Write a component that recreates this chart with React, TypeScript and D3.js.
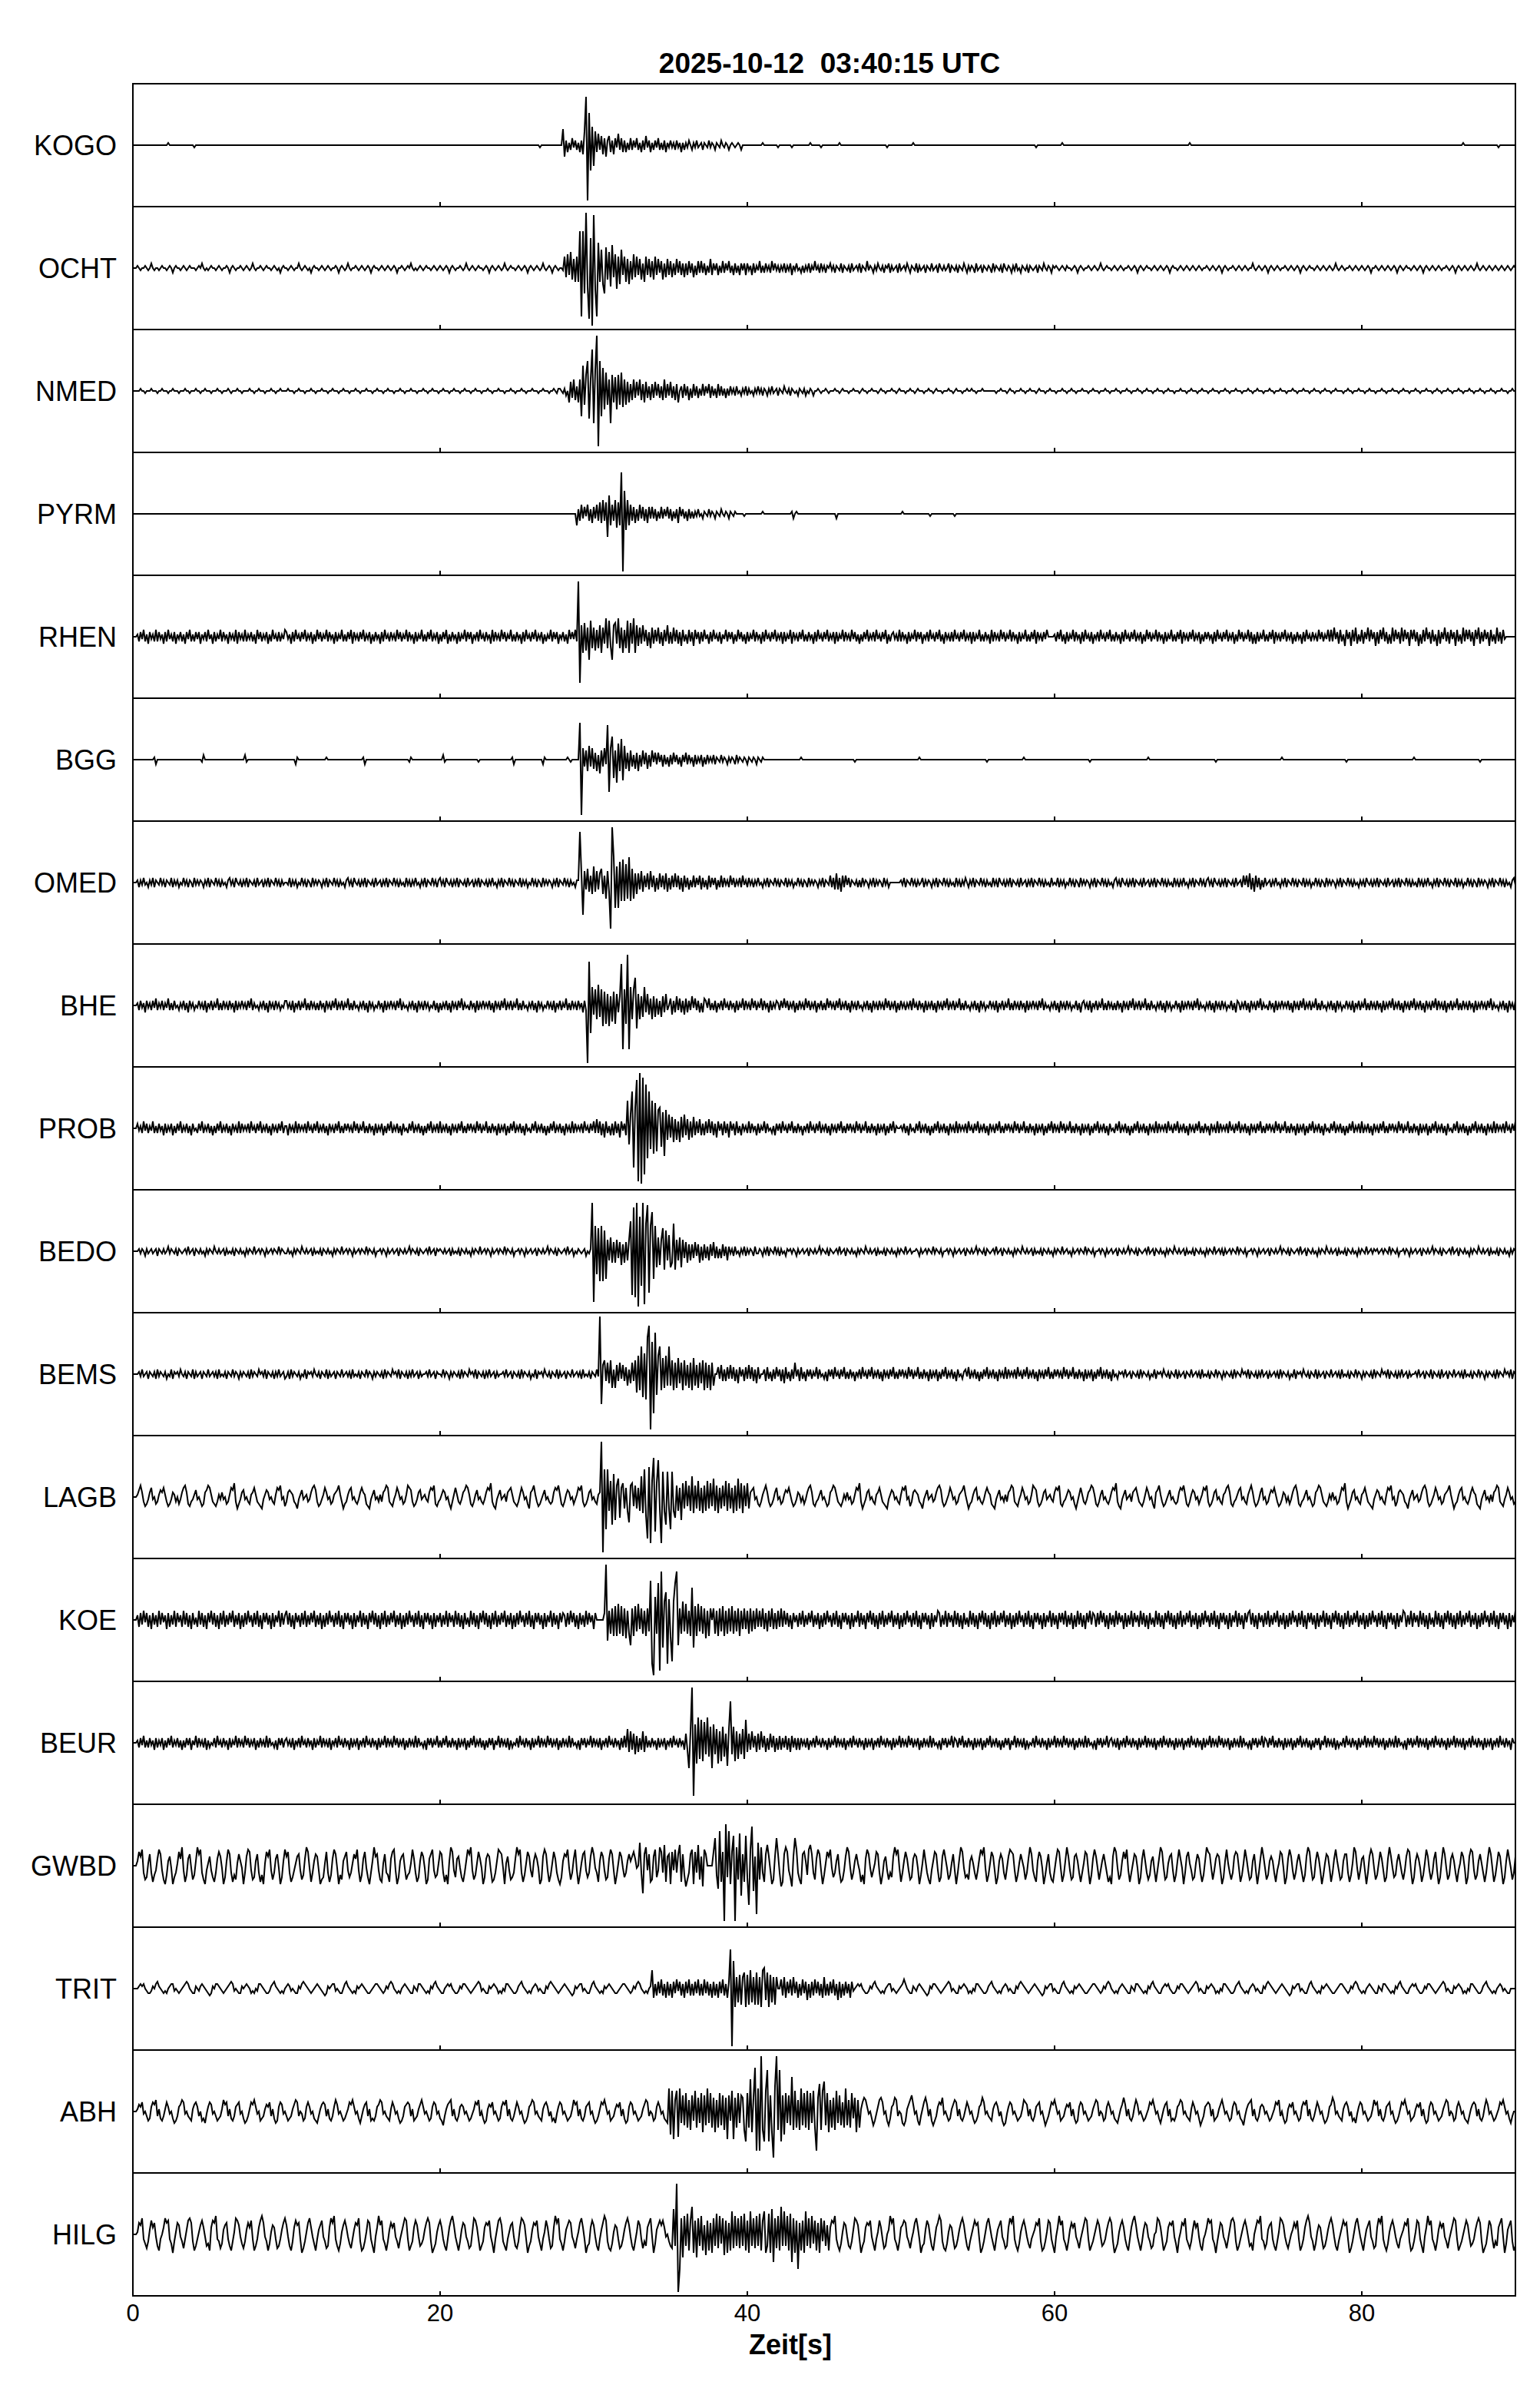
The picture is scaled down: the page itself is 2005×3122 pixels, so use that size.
import React from "react";
import * as d3 from "d3";

// ---------- data ----------
// Each trace: list of [startTime(s), samples]; start -1 = continue right after the previous segment.
// Samples every 0.1 s. Encoding: A..Z = +1..+26, a..z = -1..-26, '0' = 0. Spaces ignored.
const TITLE = "2025-10-12  03:40:15 UTC";
const X_LABEL = "Zeit[s]";
const X_TICKS = [0, 20, 40, 60, 80];
const T_MAX = 90;
const DT = 0.1;
const STATIONS = ["KOGO","OCHT","NMED","PYRM","RHEN","BGG","OMED","BHE","PROB","BEDO","BEMS","LAGB","KOE","BEUR","GWBD","TRIT","ABH","HILG"];

const KOGO: [number, string][] = [
  [2.3,"A"],[4.0,"a"],[26.5,"a"],
  [28.0,"GeBcAbCaBb AcBdFUxNkH"],
  [30.0,"iFcEbDdCeB DcBdCaEbCc BcAbCbBaCb AcBbDaBcAb BaCbAbBcAa BaAbBaAcAb AaB0bAaBa0 AbA0aBaA0b A0aB0aA0b0 A0a0A0b000"],
  [41.0,"A"],[42.0,"a"],[42.9,"a"],[44.1,"A"],[44.8,"a"],[46.0,"A"],[49.1,"a"],[50.8,"A"],[58.8,"a"],[60.5,"A"],[68.8,"A"],[86.6,"A"],[88.9,"a"]
];

const OCHT: [number, string][] = [
  [0.2,"0A0a00A0a0 B0a00a0A00 a0A0b0A00a 0A0a0A000a 0A0B0a0a0A 00a0A0a00A 0b0A0a00A0 a0A0a0B0a0 0A0a0A00a0 A0a0b0A0a0 A"],
  [10.0,"0a0A0a00B0 a0A0a0b0A0 0a0A0a0A0a 00A0b0A0a0 B0a00A0a0A 0a0A0b0A00 a0A0a0A0a0 A0b00A0a0A 0B0a0a0A0a 0A00a0A0a0 0"],
  [20.0,"A0a0A0b0A0 a00A0a0B0a 0A0a0A00a0 A0b0A0a0A0 a0B0a0A00a 0A0a0A0b0A 0a0A0a0B0a 0A0b0A0a00 a0A0a0B0a0 A0b0"],
  [28.1,"EdFcGeDfE"],
  [29.0,"fPuPkXhvMy WiuKfHgkIe"],
  [31.0,"GhJdFiEgHc EfDgCeFdEc DeBfEcDdCe EcDbCeBdDc"],
  [35.0,"CdBcDbCcBd BcCbBdAcCb CbBcAbDcBa BcAbCbBaCb AcBbAcBaBc"],
  [40.0,"BaAcBbAaCb AbBaAbCaBa AbAaBbAaBc AaBa0bAbAa BbAaCaAbBa"],
  [45.0,"AbA0BaAbA0 aBbA0aAbBa 0AaBbA0aCa A0bAaB0aAb A0BbAa0AbB a0AaB0bA0a BbAa0AbA0a Ba0AbB0aAa 0BbA0aAbA0 aB0bAaA0bB a0AbA0aA0b BaA0aAbB0a A0bAaBa0bA 0aAbA0a0Ab A0aB0aA0bA 0"],
  [60.0,"0A0a0A0aA0 0a0A0b0A0a 00A0a0A0a0 B0a0A00a0A 0a0A0a00A0 a0A0b0A0a0 A00a0A0a0A 0a0A0b0A00 a0A0a0A0a0 A0a0A0a00A 0"],
  [70.0,"0a0A0a0A0b 0A0a00A0a0 A0a0A0a00B 0a0A0a0A0b 0A0a0A0a00 A0a0A0a0A0 b0A0a0A00a 0A0a0A0a0A 0a0B0a0A0a 00A0a0A0a0 0"],
  [80.0,"A0a0A0b00A 0a0A0a0A0a 0A0b0A0a0A 00a0A0a0A0 b0A0a0A0a0 A0a00A0a0A 0b0A0a0A0a 0A0a0B0a0A 0a0A0a0A0a 0A0a0A0a0A 0"]
];

const NMED: [number, string][] = [
  [0.3,"00A00a000A 000a00A000 a00A000a00 0A00a000A0 0a00A000a0 00A00a000A 0a000A00a0 000A00a00A 000a000A00 a00A000a00 0"],
  [10.0,"0A000a00A0 00a000A00a 000A000a00 A000a00A00 0a000A00a0 00A000a00A 000a00A000 a000A00a00 0A000a000A 00a00A000a 0"],
  [20.0,"00A000a00A 000a00A000 a00A000a00 0A00a000A0 00a000A00a 000A00a000 A000a00A00 0a00A0aA"],
  [27.8,"A0aAb0"],
  [28.4,"eDcEdBeEkK fGMlERnIXx MkJhHfEnGe FhGfHgEf"],
  [32.2,"DeCdEcDbEd CeDcBdCcDb CcBdEcCbDc BdCe"],
  [35.7,"BcCbBdAcCb BcAbCbBaCc BbAcCbBbAc"],
  [38.7,"AbBaAbBa0b AaBbAa0bAa BaAbA0bAaB a0AbA0aB0a AbA0a0bA0a Ab0aA0b"],
  [44.5,"0A0a00A0a0 00A00a0A00 0a00A000a0 A00a00A000 a0A00a000A 00a0A000a0 0A00a0A000 a00A00a0A0 00a000A00a 0A000a00A0 0A00a000A0 0"],
  [56.0,"00a00A000a 0A00a000A0 0a00A000a0 A000a00A00 0a000A00a0 0A00a000A0 00a00A000a 000A00a000 A00a000A00 a000A00a00 0"],
  [66.0,"A000a00A00 0a00A000a0 00A000a00A 000a00A000 a00A000a00 0A00a000A0 00a000A00a 00A000a000 A00a000A00 0a000A00a0 0"],
  [76.0,"00A000a00A 000a00A000 a00A0000a0 0A00a000A0 00a00A000a 000A00a000 A000a00A00 0a000A00a0 00A000a00A 00a000A00a 000A00a000 A00a000A00 a000A00a00 0A000a00A0 0"]
];

const PYRM: [number, string][] = [
  [28.9,"eBcDbCaDcB dCbDc"],
  [30.4,"EdFcEjHeD"],
  [31.3,"cFfEeRyJgF e"],
  [32.4,"DcCdBcDbCc BdCb"],
  [33.8,"CbBcAbCbBa CbBcAbBdCa BbAcBbA"],
  [36.5,"bAaBa0bA0a BaA0bA0aB0 aA0bA0aA0"],
  [39.8,"a"],[41.0,"A"],[42.9,"Ab0A"],[45.8,"b"],[50.1,"A"],[51.9,"a"],[53.5,"a"]
];

const RHEN: [number, string][] = [
  [0.3,"AbBaCbAcBa AbCbBaAcBb CaAbBcAaBb AcBaCbAbBa BcAaBbCaAc BbAaCbBaAc BaAbCcBaAb CbAaBbAcCa BbAaBcAbCa AbBbAaCbBa A"],
  [10.0,"BaAcBbCaAb BaCbAaBcAb CaBbAaCbBa AcBbAaCbAb BaCcBaAbBa CbAaBcAbBa AcBbCaAbBa AbCaBbAaCb BaAcBbAaCb AbBaCbAaBc A"],
  [20.0,"AbBaCcAbBa AcBbAaCbBa BcAaBbCaAb BaAcCbBaAb CaBbAaCbAb BaAcBbCaAb BaCbAaBcAb AaCbBaBcAa BbAcCaBaCb AbBa"],
  [29.0,"XtEgFfDjGe"],
  [30.0,"DfCeEgDcHe GdjEFcHeDg CeGgFcHgEd"],
  [33.0,"DcEbCdBeDc CbDcBdCbEc BcDbCcBdCb AcCbBdCaBc"],
  [37.0,"BbCaAcBbCa AbBcAaCbBa BcAb"],
  [39.4,"CaBbAcBbAa CbBaAcBbCa AbBaCbAaBc BbAaCcBaAb BaCbAbBaAc BbCaAbBaCb AaBcBbAaCb BaAbCaBbAc AbBaCbAaBb CaAbBaCcAb A"],
  [49.5,"BaAbCbBaAc BbAaCbBaBc AaBbCaAbBa CbAcBaAbBb CaAbBaCbAa BcBbAaCbAb BaAcCbBaAb CaBbAaCbBa AcBbAaCbAb BaCcBaAbBa C"],
  [60.0,"AbBaCbAcBb AaCbBaAcBb CaAbBcAaBb CaAbBaCbAb BaAcBbCaAb BaCbAaBcAb CaBbAaCbBa AcBbAaCbAb BaCcBaAbBa CbAaBcAbBa A"],
  [70.0,"BaAcBbCaAb BaCbAaBcAb CaBbAaCbBc AcBbAaCbAb BaCcBaAbBa CbAaBcAbBa AcBbCaAbBa AbCaBbAaCb BaAcCbAaCb AbBaCbAaBc A"],
  [78.0,"CbDaBcCbAd CaBdCbDcAb CcBaDbCaBd BcCaDbBcAc DbCaBcDbCa BdCaCbBdAc CbDaBcCbAd CcBaDbBcCa BdCbAcDbCa CbBdCaDcBb CaBdCbAcDb BcCa"]
];

const BGG: [number, string][] = [
  [1.4,"Ab"],[4.5,"aB"],[7.3,"Ba"],[10.6,"bA"],[12.6,"A"],[15.0,"Ab"],[18.0,"aA"],[20.2,"Ba"],[22.5,"a"],[24.7,"Ab"],[26.7,"bA"],[28.3,"A0a"],
  [29.1,"Px"],
  [29.3,"EcDeFcEdCe BfDcEbDe"],
  [30.9,"On"],
  [31.1,"EJhDjGeIiF"],
  [32.1,"dCeDcBdCeB cDbCdBcDaC"],
  [34.1,"bCaBcBbAcB bCaBbAcBaC bBaAcBbAaB cAbBa"],
  [37.6,"AaBbA0aBaA 0bAaA0bBaA 0aA0bA0aA0 bA0aA0"],
  [43.5,"A"],[47.0,"a"],[51.2,"A"],[55.6,"a"],[58.0,"A"],[62.3,"a"],[66.1,"A"],[70.5,"a"],[74.8,"A"],[79.0,"a"],[83.4,"A"],[87.7,"a"]
];

const OMED: [number, string][] = [
  [0.3,"AbAaBa0bAa BbA0aBaAbA 0aBbAaAb0a BaAbA0bBaA aA0bAaBbA0 aBaAbAa0bA BaAbB0aAbA aBbA0aAbBa 0AbAaBbA0a BaAbAa0bBa A"],
  [10.0,"0aBbAaAb0a BaAbA0bBaA aA0bAaBbA0 aBaAbAa0bA BaAbB0aAbA aBbA0aAbBa 0AbAaBbA0a BaAbAa0bBa AbAaBa0bAa BbA0aBaAbA 0"],
  [20.0,"BaAbB0aAbA aBbA0aAbBa 0AbAaBbA0a AbAaBa0bAa BbA0aBaAbA 0aBbAaAb0a BaAbA0bBaA aA0bAaBbA0 aBaAbAa0bA BaA"],
  [29.0,"AVDn"],
  [29.4,"EcFdCeGdEc DFeCgEdFcE"],
  [31.1,"tXKkGkIhJh HgKhFgDe"],
  [32.9,"DcEdCbDcEb CdBcDbCcDd BcCbDbCcBd"],
  [35.9,"CbBcAbCbBa CcBbAcCbBa BcAbCb"],
  [38.5,"BaAbCaBbAa BbCaAbBa"],
  [40.3,"AbAaBa0bAa BbA0aBaAbA 0aBbAaAb0a BaAbA0bBaA aA0bAaBbA0 aCbBcDcBdC bCaBbA0aAb AbBaA0bAaB bAaA0bBaAb"],
  [50.0,"AaBbA0aBaA bAa0BbAaA0 bAaBbA0aBa AbAa0bBaAb AaB0bAaBbA 0aBaAbAa0b BaAbB0aAbA aBbA0aAbBa 0AbAaBbA0a BaAbAa0bBa A"],
  [60.0,"0aBbAaAb0a BaAbA0bBaA aA0bAaBbA0 aBaAbAa0bA BaAbB0aAbA aBbA0aAbBa 0AbAaBbA0a BaAbAa0bBa AbAaBa0bAa BbA0aBaAbA 0"],
  [70.0,"BaAbB0aAbA aBbA0aAbBa 0AbCaCbDcB dCbBcAbBa0 AbAaBa0bAa BbA0aBaAbA 0aBbAaAb0a BaAbA0bBaA aA0bAaBbA0 aBaAbAa0bA B"],
  [80.0,"aAbB0aAbAa BbA0aAbBa0 AbAaBbA0aB aAbAa0bBaA bAaBa0bAaB bA0aBaAbA0 aBbAaAb0aB aAbA0bBaAa A0bAaBbA0a BaAbAa0bAB a"]
];

const BHE: [number, string][] = [
  [0.3,"AbBaAcBaAb BaCbAaBbAa CbAbBa0bAa BbAcBaAb0a BaAbBcAaBb AaCbAbBaAb BaAcBbAaBa AbBaCbAa0b AaBbAcBaAb BaAb0aBbAc A"],
  [10.0,"BaAbBcAaBb AaCbAbBaAb AbBaAcBaAb BaCbAaBbAa CbAbBa0bAa BbAcBaAb0a BaAcBbAaBa AbBaCbAa0b AaBbAcBaAb BaAb0aBbAc B"],
  [20.0,"AbAaBbAcBa AbBaCbAa0b BaAcBbAaBa AaBbAcBaAb BaCbAaBbAa CbAbBa0bAa BbAcBaAb0a BaAbBcAaBb AaCbAbBaAb BaAcBb"],
  [29.6,"ySlHdGfIeG"],
  [30.6,"iFhEiDgFhE cFeDfEd"],
  [31.7,"DRsGhVsHfG Lj"],
  [32.9,"EfDeHcEdCf DeCdBeDcEb"],
  [35.0,"CdBcDbCcBd CcBbDaCbBc AcCb"],
  [37.3,"BaCbAbBcAa BbCaAbBaAc BbAaCbBaAb CaBbAaCbBa AcBbAaBb"],
  [42.0,"AbBaCaBbAa BcAbBaAbCa BbAaBcAaBb AbCaBaAbBa CbAaBbAcBa AbBa0bAaBb AcBaAbBaAb CaBbAaBcAb BaAbAaBbCa AbBaAcBb"],
  [-1,"AaBbAcBaAb BaCbAaBbAa CbAbBa0bAa BbAcBaAb0a BaAbBcAaBb AaCbAbBaAb BaAcBbAaBa AbBaCbAa0b AaBbAcBaAb BaAb0aBbAc A"],
  [-1,"BaAbBcAaBb AaCbAbBaAb AbBaAcBaAb BaCbAaBbAa CbAbBa0bAa BbAcBaAb0a BaAcBbAaBa AbBaCbAa0b AaBbAcBaAb BaAb0aBbAc B"],
  [-1,"AbAaBbAcBa AbBaCbAa0b BaAcBbAaBa AaBbAcBaAb BaCbAaBbAa CbAbBa0bAa BbAcBaAb0a BaAbBcAaBb AaCbAbBaAb BaAcBbAaBa CbAaBbAcBa AbBaCbAaBb AcBaAbBaCb BaAbBcAaBb AaCbAbBaAb BaAcBbAaBa AbBaCbAa0b AaBbAcBaAb BaAb0aBbAc"]
];

const PROB: [number, string][] = [
  [0.3,"BaAbCaBbAa CbAbBaAcBb AaBcAbBaCb AaBbAcBa0b BaCbAaBbAc AbBaCbAaBb AcBaAbCbBa AaBbCaAbBa CbAaBbAcBa AbBaCbAbBa A"],
  [10.0,"AcBaAbCbBa AaBbCaAbBa CbAaBbAcBa AbBaCbAbBa BaAbCaBbAa CbAbBaAcBb AaBcAbBaCb AaBbAcBa0b BaCbAaBbAc AbBaCbAaBb A"],
  [20.0,"CbAaBbAcBa AbBaCbAbBa BaAbCaBbAa CbAbBaAcBb AaBcAbBaCb AaBbAcBa0b BaCbAaBbAc AbBaCbAaBb AcBaAbCbBa AaBbCaAbBa CbAa"],
  [30.2,"DbCcBdCbAc BcCbBdCaBc"],
  [32.2,"LgFPqIUwXx VtSmPiLkKj HIhGlH"],
  [34.8,"eFdEfDeCfE dFcDeCdEc"],
  [36.7,"CbDcBcCbDb CcBdCaBcCb BdCaBcCbAc"],
  [39.7,"BaAbCbBaAc BbAaCbBa0b AcBaBbCaAb BaCbAbBaAc AaBbCaAbBa CbAaBbAcBa AbBaCbAbBa BaAbCaBbAa CbAbBaAcBb AaBcAbBaCb A"],
  [50.0,"AaBbAcBa0b BaCbAaBbAc AbBaCbAaBb AcBaAbCbBa AaBbCaAbBa CbAaBbAcBa AbBaCbAbBa BaAbCaBbAa CbAbBaAcBb AaBcAbBaCb A"],
  [60.0,"BaAbCaBbAa CbAbBaAcBb AaBcAbBaCb AaBbAcBa0b BaCbAaBbAc AbBaCbAaBb AcBaAbCbBa AaBbCaAbBa CbAaBbAcBa AbBaCbAbBa A"],
  [70.0,"AcBaAbCbBa AaBbCaAbBa CbAaBbAcBa AbBaCbAbBa BaAbCaBbAa CbAbBaAcBb AaBcAbBaCb AaBbAcBa0b BaCbAaBbAc AbBaCbAaBb A"],
  [80.0,"CbAaBbAcBa AbBaCbAbBa BaAbCaBbAa CbAbBaAcBb AaBcAbBaCb AaBbAcBa0b BaCbAaBbAc AbBaCbAaBb AcBaAbCbBa AaBbCaAbBa CbAa"]
];

const BEDO: [number, string][] = [
  [0.3,"0AaA0bAa0A a0AbA0aAa0 BaA0aAbA0a 0AaBa0AbA0 aAa0bAaA0a B0aAa0AbAa 0aAbA0aAa0 bAaA0aBa0A aA0bAa0AaA 0aBaA0aAb0 A"],
  [10.0,"aAa0bAaA0a B0aAa0AbAa 0aAbA0aAa0 bAaA0aBa0A aA0bAa0AaA 0aBaA0aAb0 0AaA0bAa0A a0AbA0aAa0 BaA0aAbA0a 0AaBa0AbA0 a"],
  [20.0,"A0aAa0AbAa 0aAbA0aAa0 bAaA0aBa0A aA0bAa0AaA 0aBaA0aAb0 0AaA0bAa0A a0AbA0aAa0 BaA0aAbA0a 0AaBa0Ab0a A0a0Ab0aA0"],
  [29.9,"UvKjJmKmIl"],
  [30.9,"EdFeDeEcDf CeDdEcFdCe DcEd"],
  [32.4,"MsStUxOoUw LTrKQlKgF"],
  [34.3,"fEJhIdGgeL hEdFgEcDeC"],
  [36.3,"dCcDbCeBdC cBdCbDcBcA cCbBd"],
  [38.8,"BaAbBa0bAa BbAaA0bBaA"],
  [40.7,"aA0bAaBbA0 aBaAbAa0bA 0AaA0bAa0A a0AbA0aAa0 BaA0aAbA0a 0AaBa0AbA0 aAa0bAaA0a B0aAa0AbAa 0aAbA0aAa0 bAaA0aBa0A a"],
  [51.0,"A0bAa0AaA0 aBaA0aAb00 AaA0bAa0Aa 0AbA0aAa0B aA0aAbA0a0 AaBa0AbA0a Aa0bAaA0aB 0aAa0AbAa0 aAbA0aAa0b AaA0aBa0Aa A"],
  [61.0,"0bAa0AaA0a BaA0aAb00A aA0bAa0Aa0 AbA0aAa0Ba A0aAbA0a0A aBa0AbA0aA a0bAaA0aB0 aAa0AbAa0a AbA0aAa0bA aA0aBa0AaA 0"],
  [71.0,"bAa0AaA0aB aA0aAb00Aa A0bAa0Aa0A bA0aAa0BaA 0aAbA0a0Aa Ba0AbA0aAa 0bAaA0aB0a Aa0AbAa0aA bA0aAa0bAa A0aBa0AaA0 b"],
  [81.0,"Aa0AaA0aBa A0aAb00AaA 0bAa0Aa0Ab A0aAa0BaA0 aAbA0a0AaB a0AbA0aAa0 bAaA0aB0aA a0AbAa0aAb A0aAa0bAaA 0aBa0AaA0b"]
];

const BEMS: [number, string][] = [
  [0.3,"0AaBa0AbA0 aAbBaA0aAb 0aBbA0AaB0 aAbA0aBbAa 0AbA0aBa0A aAbBa0aAbA 0aBaA0bAaA 0aAbBaA0aB 0AaBbA0aAb AaBa0AbAa0 A"],
  [10.0,"aAbBaA0aAb 0aBbA0AaB0 aAbA0aBbAa 0AbA0aBa0A aAbBa0aAbA 0aBaA0bAaA 0aAbBaA0aB 0AaBbA0aAb AaBa0AbAa0 0AaBa0AbA0 a"],
  [20.0,"0aBaA0bAaA 0aAbBaA0aB 0AaBbA0aAb AaBa0AbAa0 0AaBa0AbA0 aAbBaA0aAb 0aBbA0AaB0 aAbA0aBbAa 0AbA0aBa0A aAbBa0aAbA 0aBaA0bAaA"],
  [30.4,"YmDFcEdFfB fDcEbDcCeB dEcDbC"],
  [32.7,"FhHgLjIkPU xNqRiHLgGf HeLe"],
  [35.1,"FgEfGdEgFe DfEgGeDfEd FgEfDgEe"],
  [38.1,"CbDcBcCbDb CcBdCaBcCb DbCcBdCb"],
  [41.1,"BcCbAcBbCa BcBdCbAcBb EaBcCbAcBa"],
  [-1,"BbAaCbBa0b AcBaBbCaAb BaCbAbBaAc AaBbCaAbBa CbAaBbAcBa AbBaCbAbBa BaAbCaBbAa CbAbBaAcBb AaBcAbBaCb AaBbAcBa0b A"],
  [-1,"BaCbAaBbAc AbBaCbAaBb AcBaAbCbBa AaBbCaAbBa CbAaBbAcBa AbBaCbAbBa BaAbCaBbAa CbAbBaAcBb AaBcAbBaCb AaBbAcBa0b A"],
  [-1,"0AaBa0AbA0 aAbBaA0aAb 0aBbA0AaB0 aAbA0aBbAa 0AbA0aBa0A aAbBa0aAbA 0aBaA0bAaA 0aAbBaA0aB 0AaBbA0aAb AaBa0AbAa0 A"],
  [-1,"aAbBaA0aAb 0aBbA0AaB0 aAbA0aBbAa 0AbA0aBa0A aAbBa0aAbA 0aBaA0bAaA 0aAbBaA0aB 0AaBbA0aAb AaBa0AbAa0 0AaBa0AbA0 aBbA0aAbBa 0AbA0aBa0A aAbBa0aAbA 0aBaA0bAaA 0aAbBaA0aB 0AaBbA0aAb AaBa0AbAa0"]
];

const LAGB: [number, string][] = [
  [0.3,"ACEBbdca BDa0cb ACBDAbdca BAb0ca BDEBcdba ACa0bdc BCEDAbcdb AaBa0cb ADCFbeca BCa0bcA BDAbcdea ACBa0bc ADCEa0db BCBAbcea ACa0Aba BDECbdca ADBa0cbA BCEAbecb ACDa0bca BDBAcdea ACa0bAb BCEDbcda ADBa0cb AEDCbdca BCa0Aab BDCEcdba ACBa0ceb ADAbca BCEDAcdb ACa0bca BDCFbdea ACa0Ab BCDAbcdb ADBa0ce BCEAbdca ACa0bcb BDCEAcdb ACBa0ca ADCEbdca BCa0bcA BDEBcdba ACDa0bc"],
  [30.5,"XxLnLfGlJj EHiDFeDfkE FdEeDf"],
  [33.1,"IgLhrMtGQo FPetKflKen Kfi"],
  [35.4,"EfDjFeGdEf IgEeGfDgEf GeFdHfEgDe"],
  [38.4,"EdGfFeDgEf HeFgEdFe"],
  [-1,"BCDa0cdb ACEBbdca BDa0cb ACBDAbdca BAb0ca BDEBcdba ACa0bdc BCEDAbcdb AaBa0cb ADCFbeca BCa0bcA BDAbcdea ACBa0bc ADCEa0db BCBAbcea ACa0Aba BDECbdca ADBa0cbA BCEAbecb ACDa0bca BDBAcdea ACa0bAb BCEDbcda ADBa0cb AEDCbdca BCa0Aab BDCEcdba ACBa0ceb ADAbca BCEDAcdb ACa0bca BDCFbdea ACa0Ab BCDAbcdb ADBa0ce BCEAbdca ACa0bcb BDCEAcdb ACBa0ca ADCEbdca BCa0bcA BDEBcdba ACDa0bc ACEBbdca BDa0cb ACBDAbdca BAb0ca BDEBcdba ACa0bdc BCEDAbcdb AaBa0cb ADCFbeca BCa0bcA BDAbcdea ACBa0bc ADCEa0db BCBAbcea ACa0Aba BDECbdca ADBa0cbA BCEAbecb ACDa0bca BDBAcdea ACa0bAb BCEDbcda ADBa0cb AEDCbdca BCa0Aab BDCEcdba ACBa0ceb ADAbca BCEDAcdb ACa0bca BDCFbdea"]
];

const KOE: [number, string][] = [
  [0.3,"BcCbDaCcBd CbBcDbCaBd CcBbDcCaBc DbCcBdCbAc DbCcBdCaDb CcBdCbDcBb CaDcBbCdBc CbDaBcCbDc BdCaCbBdCc BaDcCbBdCa C"],
  [10.0,"DbCcBdCaBc CbDcBbCaDc BbCdBcCbDa BcCbDcBdCa CbBdCcBaDc CbBdCaDbCc BdCbDcBbCa DcBbCdBcCb DaBcCbDcBd CaCbBdCcBa D"],
  [20.0,"CcBbDcCaBc DbCcBdCbAc DbCcBdCaDb CcBdCbDcBb CaDcBbCdBc CbDaBcCbDc BdCaCbBdCc BaDcCbBdCa CBcCbDaCcB dCbBcDbCaB dC"],
  [30.7,"CXiDfEgFgG fFgEhDfkEg"],
  [32.7,"FeGdEfDgEe H"],
  [33.7,"QsxJfPvUlH LsIgrHPUkE"],
  [35.7,"fHeGfDgNlF gGeFfEhDgE"],
  [37.8,"EfDgEeFgDf EeFfDeEgDd EdDfEeDdEc DcEdCeDcEd CdDcEcDb"],
  [-1,"CcBdCaBc CbDcBbCaDc BbCdBcCbDa BcCbDcBdCa CbBdCcBaDc CbBdCaDbCc BdCbDcBbCa DcBbCdBcCb DaBcCbDcBd CaCbBdCcBa D"],
  [-1,"CcBbDcCaBc DbCcBdCbAc DbCcBdCaDb CcBdCbDcBb CaDcBbCdBc CbDaBcCbDc BdCaCbBdCc BaDcCbBdCa CbDcBbCdBc DbCcBdCaDb C"],
  [-1,"BcCbDaCcBd CbBcDbCaBd CcBbDcCaBc DbCcBdCbAc DbCcBdCaDb CcBdCbDcBb CaDcBbCdBc CbDaBcCbDc BdCaCbBdCc BaDcCbBdCa C"],
  [-1,"DbCcBdCaBc CbDcBbCaDc BbCdBcCbDa BcCbDcBdCa CbBdCcBaDc CbBdCaDbCc BdCbDcBbCa DcBbCdBcCb DaBcCbDcBd CaCbBdCcBa D"],
  [-1,"CcBbDcCaBc DbCcBdCbAc DbCcBdCaDb CcBdCbDcBb CaDcBbCdBc CbDaBcCbDc BdCaCbBdCc BaDcCbBdCa"]
];

const BEUR: [number, string][] = [
  [0.3,"AbBaCbAbBa AcBbAaBcAb BaCbAaBbAc AbBaBcAaCb BaAbBcAb0a BbCaAbBaAc BbAaCbBaAb CaBbAaBcAb BaAbCbBa0b AcBaBbAaCb A"],
  [10.0,"BaAbBcAaBb CaAbBaAcBb AaCbBaAbBc AaBbCaAbBa AcBbAaBcAa BbCaAbBaAc BbAaCbBaAb CaBbAaBcAb BaAbCbBa0b AcBaBbAaCb B"],
  [20.0,"AbBaCbAbBa AcBbAaBcAb BaCbAaBbAc AbBaBcAaCb BaAbBcAb0a BbCaAbBaAc BbAaCbBaAb CaBbAaBcAb BaAbCbBa0b AcBaBbAaCb BaAbBcAaBb CaAbBaAcBb AaCbBaAbBc AaBbCaAbBa AcBbAaBcAa BbCaAbBaAc BbAa"],
  [32.0,"CbFdEcDeCd BcEdCb"],
  [36.0,"DckEXwHiKg JhIeKfGkHe"],
  [38.0,"FiEhGfDjFR eGhEgDeFgJ d"],
  [40.1,"DcEbCdDcEb CdBcDbCdBc CcBbCcBdCb BcBc"],
  [-1,"BaAbBcAaBb CaAbBaAcBb AaCbBaAbBc AaBbCaAbBa AcBbAaBcAa BbCaAbBaAc BbAaCbBaAb CaBbAaBcAb BaAbCbBa0b AcBaBbAaCb B"],
  [-1,"AbBaCbAbBa AcBbAaBcAb BaCbAaBbAc AbBaBcAaCb BaAbBcAb0a BbCaAbBaAc BbAaCbBaAb CaBbAaBcAb BaAbCbBa0b AcBaBbAaCb A"],
  [-1,"BaAbBcAaBb CaAbBaAcBb AaCbBaAbBc AaBbCaAbBa AcBbAaBcAa BbCaAbBaAc BbAaCbBaAb CaBbAaBcAb BaAbCbBa0b AcBaBbAaCb B"],
  [-1,"AbBaCbAbBa AcBbAaBcAb BaCbAaBbAc AbBaBcAaCb BaAbBcAb0a BbCaAbBaAc BbAaCbBaAb CaBbAaBcAb BaAbCbBa0b AcBaBbAaCb BaAbBcAaBb CaAbBaAcBb AaCbBaAbBc AaBbCaAbBa AcBbAaBcAa BbCaAbBaAc B"]
];

const GWBD: [number, string][] = [
  [0.3,"BFDGcfe AEcgdb CGEbfhd BDahec AFCHbgd CEafd BHEGcfhb ADbegc CFDahe BGEcgdf AEBahc DGFbfe BEcgdh AFDGbfc CEahe BGDFcgeb ADEbfd CHFagc BEDbhfe AFcgd CGEahdf BDFbec AECGbgd CFaehc BHDEbfg AEcdg CFGbhe BDEafdc AGCcge BFDahf CEGbed AFEcgdh BHFbe CDaegc BGEHbfd AFCahe CEDbgfc BGFEah ADbfec CHEGcgd AFDbe BECahf DGEbgd AFCcfhe BEDGafc CGbhd AEFbec DHEacg BFDbfe CGEbhd AFDaec BEcgd"],
  [32.4,"BDFCa0JclE"],
  [33.4,"HbEgfDGebH FcIgDEhFbG cEIgEdifcE GhFcIfDiGE"],
  [37.8,"FLdjOgFxRe OhFMxHfNmE gMeqGQkDuJ f"],
  [40.9,"HcgEIDbhfD LEcigEHFbe iDLGcfhEFB dGIEcf"],
  [-1,"CGEbhd AFDGaec BEcgfb DHFafc BEAbgdh CGEaeb AFEchd BDbfce DHEGagc BFCbfe CEDahd AGBcfhb BFEbge DGCafd AEbhc CHFaedf BDAcfb CGEHagd AFDbhe BECcfa DGFEbgd AEBafc CHEbeg BFDahd AEcfgb CGFagd BHDbfe DEBcgc AFEbhd CGDafb BEAcgeh DHFafd BFCGbgc AEDahe CGBcfd BDbgb CHFafe ADEbgd BGCahc DFAbfe AECcgd BHFEafb CEDbhe BGAcfc DFEagd AGCbfe BEbhc CHDafd BDBcgb AFEahe CGDbfc BEAcgd DHFafe BFCbhd AEDagc CGBbfe BEEcgd AHFafb CDbhc DGEafd AFCbge CHDaed BEAcfb DGFbhe BECagd AGDbfc CFbhe BHEafd CEBcgb AFDahe DGFbfd BEAcgc CHEagd AFDbhe BGCafc DEBbgd CFEbhc AGDafd BFEcgd AEbhf CGDbfe ADFahc BEcge CHFbfd AEDagc BFbhe"]
];

const TRIT: [number, string][] = [
  [0.3,"0ABAB0abba A0BCA0abab 0ABBa0aba0 ABCB0abbA 0aABA0abcb A0BBA0aba 0ABCBa0abb A0ABA0bab 0aBBA0abba ABCA0abab 0ABAa0abb A0BCBA0aba 0ABA0abcb A0ABBa0abb 0BCA0abab A0ABA0abba 0ABBA0aba A0BCB0abab 0ABA0abbA 0aBBA0abab A0BCA0abb 0ABAB0abba A0BBA0aba 0ABCBa0abb A0ABA0bab 0aBBA0abba ABCA0abab 0ABAa0abb A0BCBA0aba 0ABA0abcb A0ABBa0abb 0BCA0abab A0ABA0abba 0ABBA0aba A0BCB0abab 0ABA0abbA"],
  [33.8,"HdBcCbDcBd CcBdCbDaCc BdCbDcBcCb DcBcDbCcBd CcBdCbDcBd CbCc"],
  [38.9,"QyLhEfFgEG hFgHfEgGgE hHIeGhFfEg E"],
  [42.2,"DcEdCbDcEb CdBcDbCeBd CcDbCcBdEc"],
  [45.2,"BcCbDcBeCd BcCbBdCa"],
  [-1,"0ABAB0abba A0BCA0abab 0ABBa0aba0 ABDB0abbA 0aABA0abcb A0BBA0aba 0ABCBa0abb A0ABA0bab 0aBBA0abba ABCA0abab 0ABAa0abb A0BCBA0aba 0ABA0abcb A0ABBa0abb 0BCA0abab A0ABA0abba 0ABBA0aba A0BCB0abab 0ABA0abbA 0aBBA0abab A0BCA0abb 0ABAB0abba A0BBA0aba 0ABCBa0abb A0ABA0bab 0aBBA0abba ABCA0abab 0ABAa0abb A0BCBA0aba 0ABA0abcb A0ABBa0abb 0BCA0abab A0ABA0abba 0ABBA0aba A0BCB0abab 0ABA0abbA 0aBBA0abab A0BCA0abb 0ABAB0abba A0BBA0aba 0ABCBa0abb A0ABA0bab 0aBBA0abba ABCA0abab 0ABAa0abb"]
];

const ABH: [number, string][] = [
  [0.3,"ACBDa0bdc BDCEbAcdb ADBa0cedb BCEDa0bcd ACDBb0dcea BDCa0bdcb AECDbAcdb BCDa0cedb ADCEBa0dcb ACBDbAced BDCa0bdcb ACEDb0adc BDBa0cdeb ACDCbAcdb BECa0bdca ADCEBa0ceb ACDbAdcdb BCEDa0bcd ADBa0cedb BCDCbAdcb ACEBa0bdc BDCa0cdfb ACDEbAcdb BCBa0bdca ADCEb0ced ACBDa0bdc BDCEbAcdb ADBa0cedb BCEDa0bcd ACDBb0dcea BDCa0bdcb AECDbAcdb BCDa0cedb ADCEBa0dcb ACBDbAced BDCa0bdcb ACEDb0adc BDBa0cdeb"],
  [34.9,"JjIlEIkJeG"],
  [35.9,"fHgEhGdIgF eHiGfJeHgF iEgHfGhFlG dIlFgHeG"],
  [39.7,"FhmHgNiFSq JqXhmIRmGi tKXhRmGjH"],
  [42.6,"eGfOhIgEhJ fHgIhHeIgq FLhIMfHi"],
  [45.4,"EgFhIeGfDg JfEgHcFiEg"],
  [47.4,"ADFEBa0cfd aBEFDa0dfc BCFEb0aefd ACEGCa0dfb ADFCbAdfdb"],
  [-1,"BDCFa0bdc ACEDbAcdb ADBa0cedb BCFDa0bcd ACDBb0dfea BDCa0bdcb AEDCbAcdb BCDa0cfdb ADCEBa0dcb ACBDbAced BDCa0bdcb ACEDb0adc BDBa0cdeb ACFCbAcdb BECa0bdca ADCEBa0ceb ACDbAdcdb BCEDa0bcd ADBa0cfdb BCDCbAdcb ACEBa0bdc BDCa0cdfb ACDEbAcdb BCBa0bdca ADCEb0ced ACBDa0bdc BDCEbAcdb ADBa0cedb BCFDa0bcd ACDBb0dcea BDCa0bdcb AECDbAcdb BCDa0cedb ADCEBa0dcb ACBDbAced BDCa0bdcb ACEDb0adc BDBa0cdeb ACDCbAcdb BECa0bdca ADCEBa0ceb"]
];

const HILG: [number, string][] = [
  [0.3,"AEDGbdfc BFCEaegb0 CGEFbdhc AEDacfb BFGEcgeb ADFCaedg CFEHbcfd BDEbegc AGFDadfc BECFbgeb CFHEacgd ADCbfeb BEGDaegc CFDEbhfc AEGCadgb BDFacfe CGEHbegd ADFCadfb BEDGcgfc AFEbeha CHDFbdgc BECEacfb ADGFbgec CFDaedb BEGEchfd ADFCbegb CFHDadgc BEDacfe AGFCbgec CEDFadhb BFGDcegb ADEaefc CGFDbhec BEDFadgb AFCbfe CHEGbdgc BDFEacfb AEGCbhed CFDaegb BEHFcfgd ADCbfeb BEGDaegc AFDbfce CEGahd BDFcgeb ACEadf CGEbfd"],
  [34.4,"DFCa0cefKe VyoGjHeIgF"],
  [36.4,"LhFjGeHgDi FgEhGeIfHd GiFhEgJfHe"],
  [39.4,"GfHeIgFhJe GfHeIgFJhe IhKlGfHgLe JeHgIlGhFo"],
  [43.4,"EgFhJeGfHd FgEhGcFeDg"],
  [-1,"CFEHbegd AEDaefc BGFDbhec CEDFadgb AFCbfe0 BHEGbdgc CDFEacfb AEGCbhed BFDaegb CEHFcfgd ADCbfeb BEGDaegc0 CFDEbhfc AEGCadgb BDFacfe CGEHbegd ADFCadfb0 BEDGcgfc AFEbeha CHDFbdgc BECEacfb ADGFbgec0 CFDaedb BEGEchfd ADFCbegb CFHDadgc BEDacfe0 AGFCbgec CEDFadhb AEDGbdfc BFCEaegb0 CGEFbdhc AEDacfb BFGEcgeb ADFCaedg0 CFEHbcfd BDEbegc AGFDadfc0 BECFbgeb CFHEacgd ADCbfeb BEGDaegc0 CFDEbhfc AEGCadgb BDFacfe CGEHbegd ADFCadfb0 BEDGcgfc AFEbeha CHDFbdgc BECEacfb ADGFbgec0 CFDaedb BEGEchfd AFDbfce CEGahd BDFcgeb ACEadf CGEbfd BEDGcgfc AFEbeha"]
];

const TRACES = [KOGO, OCHT, NMED, PYRM, RHEN, BGG, OMED, BHE, PROB, BEDO, BEMS, LAGB, KOE, BEUR, GWBD, TRIT, ABH, HILG];

function decode(segs: [number, string][]): number[] {
  const n = Math.round(T_MAX / DT) + 1;
  const arr: number[] = new Array(n).fill(0);
  let cursor = 0;
  for (const [t0, s] of segs) {
    const str = s.replace(/\s+/g, "");
    const i0 = t0 < 0 ? cursor : Math.round(t0 / DT);
    for (let k = 0; k < str.length; k++) {
      const i = i0 + k;
      if (i >= n) break;
      const c = str[k];
      let v = 0;
      if (c >= "A" && c <= "Z") v = c.charCodeAt(0) - 64;
      else if (c >= "a" && c <= "z") v = -(c.charCodeAt(0) - 96);
      arr[i] = v;
    }
    cursor = i0 + str.length;
  }
  return arr;
}

// ---------- layout ----------
const W = 2005, H = 3122;
const LEFT = 173, RIGHT = 1973, TOP = 109, PANEL_H = 160;
const FONT = "'Liberation Sans', Arial, Helvetica, sans-serif";

export default function App() {
  const x = d3.scaleLinear().domain([0, T_MAX]).range([LEFT, RIGHT]);
  const n = STATIONS.length;
  const bottom = TOP + n * PANEL_H;
  const line = (yS: d3.ScaleLinear<number, number>) =>
    d3.line<number>().x((_, i) => x(i * DT)).y((d) => yS(d));

  return (
    <svg width={W} height={H} style={{ position: "absolute", left: 0, top: 0, background: "#fff" }}>
      <rect x={0} y={0} width={W} height={H} fill="#fff" />
      <defs>
        {STATIONS.map((s, i) => (
          <clipPath id={`clip${i}`} key={s}>
            <rect x={LEFT} y={TOP + i * PANEL_H} width={RIGHT - LEFT} height={PANEL_H} />
          </clipPath>
        ))}
      </defs>
      <text x={1080} y={95} textAnchor="middle" fontFamily={FONT} fontWeight="bold" fontSize={37} style={{ whiteSpace: "pre" }}>
        {TITLE}
      </text>
      {STATIONS.map((s, i) => {
        const c = TOP + i * PANEL_H + PANEL_H / 2;
        const yS = d3.scaleLinear().domain([-26, 26]).range([c + 78, c - 78]);
        const data = decode(TRACES[i]);
        const pb = TOP + (i + 1) * PANEL_H;
        return (
          <g key={s}>
            <path d={line(yS)(data) || ""} fill="none" stroke="#000" strokeWidth={2} clipPath={`url(#clip${i})`} />
            <text x={152} y={c + 13} textAnchor="end" fontFamily={FONT} fontSize={36}>{s}</text>
            {i < n - 1 && <line x1={LEFT} x2={RIGHT} y1={pb} y2={pb} stroke="#000" strokeWidth={2} />}
            {X_TICKS.filter((t) => t > 0).map((t) => (
              <line key={t} x1={x(t)} x2={x(t)} y1={pb} y2={pb - 6} stroke="#000" strokeWidth={2} />
            ))}
          </g>
        );
      })}
      <rect x={LEFT} y={TOP} width={RIGHT - LEFT} height={bottom - TOP} fill="none" stroke="#000" strokeWidth={2} />
      {X_TICKS.map((t) => (
        <text key={t} x={x(t)} y={bottom + 33} textAnchor="middle" fontFamily={FONT} fontSize={31}>{t}</text>
      ))}
      <text x={1029} y={bottom + 76} textAnchor="middle" fontFamily={FONT} fontWeight="bold" fontSize={36}>{X_LABEL}</text>
    </svg>
  );
}
